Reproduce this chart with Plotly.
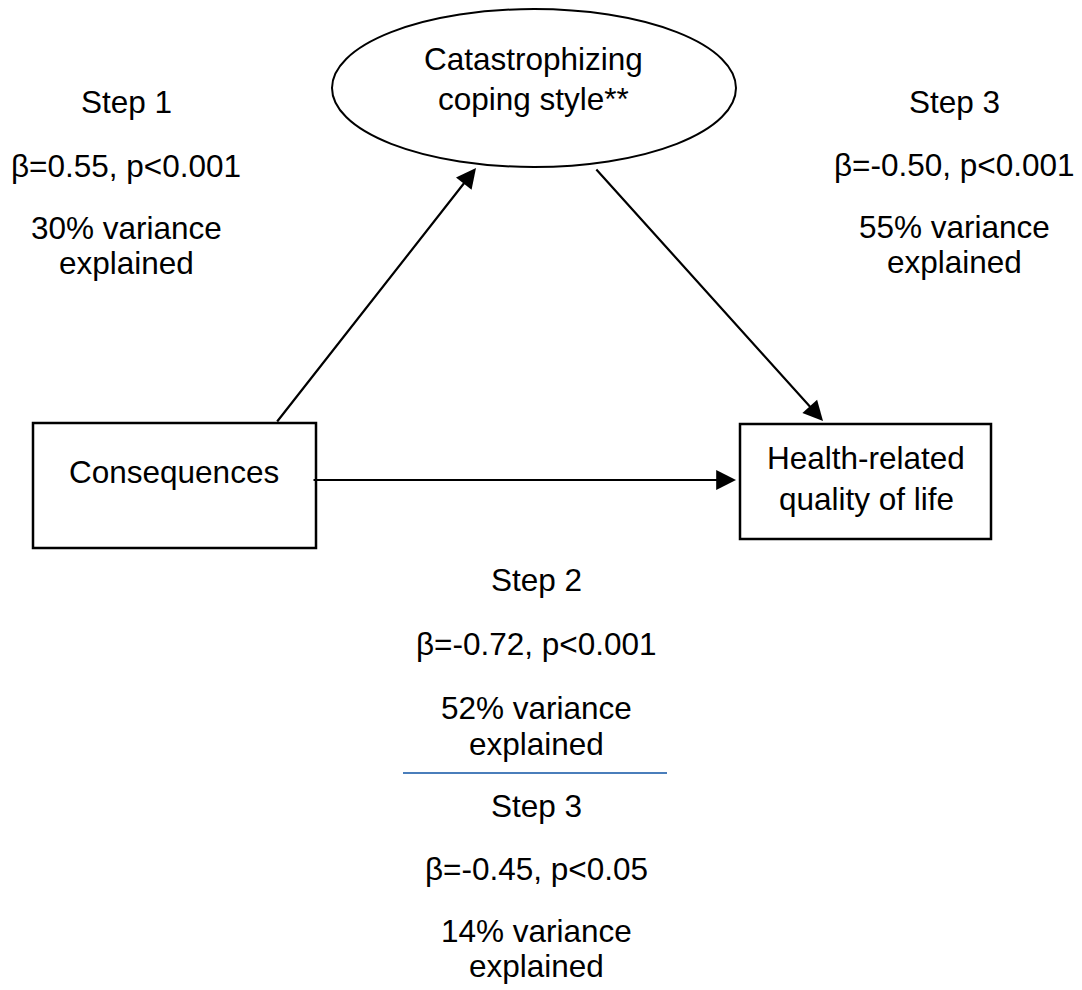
import plotly.graph_objects as go

# ---- diagram content ----
node_labels = ["Consequences", "Health-related<br>quality of life", "Catastrophizing<br>coping style**"]
step_labels = ["Step 1", "Step 3", "Step 2", "Step 3"]
beta_labels = ["β=0.55, p<0.001", "β=-0.50, p<0.001", "β=-0.72, p<0.001", "β=-0.45, p<0.05"]
variance_labels = ["30% variance", "55% variance", "52% variance", "14% variance"]
explained_label = "explained"

W, H = 1082, 990
PAGE_OFF = 8  # html body margin
FONT = "Liberation Sans, Arial, sans-serif"
FS = 31.5
OFF = 11  # baseline -> text middle offset

fig = go.Figure()

shapes = []
# ellipse (mediator)
shapes.append(dict(type="circle", xref="x", yref="y", x0=332, x1=736, y0=9, y1=167,
                   line=dict(color="black", width=2), fillcolor="rgba(0,0,0,0)"))
# boxes
shapes.append(dict(type="rect", xref="x", yref="y", x0=33, x1=316, y0=423, y1=548,
                   line=dict(color="black", width=2.5)))
shapes.append(dict(type="rect", xref="x", yref="y", x0=740, x1=991, y0=424, y1=539,
                   line=dict(color="black", width=2.5)))
# blue separator
shapes.append(dict(type="line", xref="x", yref="y", x0=403, x1=667, y0=773, y1=773,
                   line=dict(color="#4A7EBB", width=2)))

annotations = []

def txt(s, x, baseline):
    annotations.append(dict(x=x, y=baseline - OFF, xref="x", yref="y", text=s, showarrow=False,
                            xanchor="center", yanchor="middle",
                            font=dict(family=FONT, size=FS, color="black")))

def arrow(x0, y0, x1, y1):
    annotations.append(dict(x=x1, y=y1, ax=x0, ay=y0, xref="x", yref="y", axref="x", ayref="y",
                            text="", showarrow=True, arrowhead=2, arrowsize=1.8, arrowwidth=2.2,
                            arrowcolor="black", standoff=0, startstandoff=0))

# node labels
cap = node_labels[2].split("<br>")
txt(cap[0], 533, 70)
txt(cap[1], 533, 110)
txt(node_labels[0], 174, 483)
hq = node_labels[1].split("<br>")
txt(hq[0], 866, 469)
txt(hq[1], 866, 510)

# Step 1 (left)
txt(step_labels[0], 126, 113)
txt(beta_labels[0], 126, 177)
txt(variance_labels[0], 126, 239)
txt(explained_label, 126, 274)
# Step 3 (right)
txt(step_labels[1], 954, 113)
txt(beta_labels[1], 954, 176)
txt(variance_labels[1], 954, 238)
txt(explained_label, 954, 273)
# Step 2 (bottom)
txt(step_labels[2], 536, 591)
txt(beta_labels[2], 536, 655)
txt(variance_labels[2], 536, 719)
txt(explained_label, 536, 755)
# Step 3 (bottom)
txt(step_labels[3], 536, 817)
txt(beta_labels[3], 536, 880)
txt(variance_labels[3], 536, 942)
txt(explained_label, 536, 977)

# arrows
arrow(276, 423, 476, 168)
arrow(595, 168, 823, 421)
arrow(312, 480, 736, 480)

fig.update_layout(
    width=W, height=H,
    margin=dict(l=0, r=0, t=0, b=0),
    paper_bgcolor="white", plot_bgcolor="white",
    xaxis=dict(range=[PAGE_OFF, W + PAGE_OFF], visible=False, fixedrange=True),
    yaxis=dict(range=[H + PAGE_OFF, PAGE_OFF], visible=False, fixedrange=True),
    shapes=shapes, annotations=annotations, showlegend=False,
)

fig.write_html("out.html")
